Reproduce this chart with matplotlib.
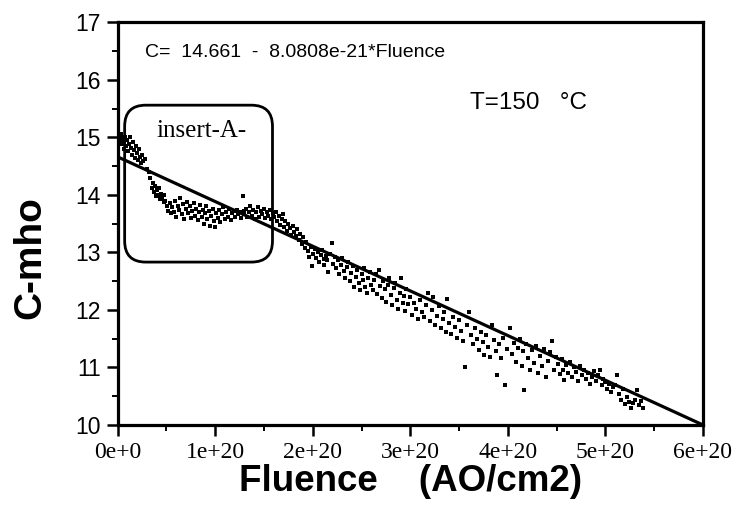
import matplotlib
matplotlib.use("Agg")
import matplotlib.pyplot as plt
from matplotlib.patches import FancyBboxPatch
from matplotlib import font_manager
import numpy as np

# Fluence in units of 1e20 AO/cm2, C in mho
fluence = [
    0.00, 0.01, 0.02, 0.03, 0.04, 0.05, 0.06, 0.07, 0.08, 0.09, 0.10, 0.11, 0.12, 0.13,
    0.14, 0.15, 0.16, 0.17, 0.18, 0.19, 0.20, 0.21, 0.22, 0.23, 0.24, 0.25, 0.26, 0.28,
    0.30, 0.32, 0.33, 0.35, 0.36, 0.37, 0.38, 0.39, 0.40, 0.41, 0.42, 0.43, 0.44, 0.45,
    0.47, 0.48, 0.49,
    0.51, 0.52, 0.54, 0.55, 0.56, 0.58, 0.59, 0.60, 0.62, 0.63, 0.64, 0.66, 0.67, 0.68,
    0.70, 0.71, 0.72, 0.74, 0.75, 0.76, 0.78, 0.79, 0.80, 0.82, 0.83, 0.84, 0.86, 0.87,
    0.88, 0.90, 0.91, 0.92, 0.94, 0.95, 0.96, 0.98, 0.99,
    1.00, 1.01, 1.03, 1.04, 1.05, 1.07, 1.08, 1.10, 1.11, 1.13, 1.14, 1.16, 1.17, 1.19,
    1.20, 1.22, 1.23, 1.25, 1.26, 1.28, 1.29,
    1.30, 1.32, 1.33, 1.35, 1.36, 1.38, 1.39, 1.41, 1.42, 1.44, 1.45, 1.47, 1.48, 1.50,
    1.51, 1.53, 1.54, 1.56, 1.57, 1.59,
    1.60, 1.62, 1.63, 1.65, 1.66, 1.68, 1.69, 1.71, 1.72, 1.74, 1.75, 1.77, 1.78, 1.80,
    1.81, 1.83, 1.84, 1.86, 1.87, 1.89,
    1.90, 1.92, 1.93, 1.95, 1.96, 1.98, 1.99, 2.00, 2.02, 2.03, 2.05, 2.06, 2.08, 2.09,
    2.11, 2.12, 2.14, 2.15, 2.16, 2.18, 2.20,
    2.21, 2.23, 2.24, 2.26, 2.27, 2.29, 2.30, 2.32, 2.33, 2.35, 2.36, 2.38, 2.39, 2.41,
    2.42, 2.44, 2.45, 2.47, 2.48, 2.50, 2.51, 2.53, 2.54, 2.56, 2.57, 2.59,
    2.60, 2.62, 2.63, 2.65, 2.66, 2.68, 2.69, 2.71, 2.72, 2.74, 2.75, 2.77, 2.78, 2.80,
    2.81, 2.83, 2.84, 2.86, 2.87, 2.89, 2.90, 2.92, 2.93, 2.95, 2.96, 2.98,
    3.00, 3.02, 3.04, 3.06, 3.08, 3.10, 3.12, 3.14, 3.16, 3.18, 3.20, 3.22, 3.23, 3.25,
    3.27, 3.29, 3.31, 3.33, 3.35, 3.37, 3.38, 3.40, 3.42, 3.44, 3.46, 3.48,
    3.50, 3.52, 3.54, 3.56, 3.58, 3.60, 3.62, 3.64, 3.66, 3.68, 3.70, 3.72, 3.74, 3.76,
    3.78, 3.80, 3.82, 3.84, 3.86, 3.88, 3.89, 3.91, 3.93, 3.95, 3.97, 3.99,
    4.02, 4.04, 4.06, 4.08, 4.10, 4.12, 4.14, 4.16, 4.17, 4.19, 4.21, 4.23, 4.25, 4.27,
    4.29, 4.31, 4.33, 4.35, 4.37, 4.39, 4.41, 4.43, 4.45, 4.47, 4.49,
    4.51, 4.53, 4.55, 4.57, 4.58, 4.60, 4.62, 4.64, 4.66, 4.68, 4.70, 4.72, 4.74, 4.76,
    4.78, 4.80, 4.82, 4.84, 4.86, 4.88, 4.90, 4.92, 4.94, 4.96, 4.98,
    5.00, 5.02, 5.04, 5.06, 5.08, 5.10, 5.12, 5.14, 5.16, 5.18, 5.20, 5.22, 5.24, 5.26,
    5.28, 5.30, 5.32, 5.34, 5.36, 5.38,
]
c_mho = [
    15.10, 15.02, 14.95, 15.05, 14.88, 14.98, 14.80, 14.92, 15.00, 14.85, 14.95, 14.76, 14.88, 15.00,
    14.82, 14.70, 14.92, 14.78, 14.64, 14.85, 14.72, 14.60, 14.80, 14.66, 14.55, 14.70, 14.58, 14.62,
    14.45, 14.40, 14.30, 14.12, 14.20, 14.05, 14.15, 13.98, 14.08, 14.00, 14.12, 13.92, 14.02, 13.95,
    13.88, 14.00, 13.90,
    13.80, 13.72, 13.85, 13.68, 13.78, 13.70, 13.90, 13.62, 13.80, 13.74, 13.95, 13.66, 13.84, 13.58,
    13.76, 13.88, 13.68, 13.80, 13.60, 13.72, 13.85, 13.64, 13.76, 13.56, 13.70, 13.82, 13.62, 13.74,
    13.50, 13.68, 13.80, 13.58, 13.72, 13.46, 13.64, 13.76, 13.55,
    13.44, 13.68, 13.60, 13.74, 13.52, 13.66, 13.78, 13.58, 13.70, 13.62, 13.76, 13.56, 13.68, 13.72,
    13.62, 13.74, 13.66, 13.70, 13.60, 13.98, 13.72,
    13.66, 13.76, 13.62, 13.70, 13.80, 13.64, 13.74, 13.58, 13.70, 13.78, 13.62, 13.72, 13.66, 13.76,
    13.60, 13.70, 13.64, 13.74, 13.58, 13.68,
    13.62, 13.70, 13.55, 13.64, 13.48, 13.58, 13.66, 13.44, 13.54, 13.38, 13.50, 13.42, 13.30, 13.46,
    13.36, 13.28, 13.40, 13.22, 13.32, 13.15,
    13.26, 13.08, 13.18, 13.02, 12.92, 13.10, 12.76, 12.98, 13.06, 12.90, 13.00, 12.84, 12.96, 13.04,
    12.88, 12.78, 12.94, 12.86, 12.66, 12.98, 13.16,
    12.80, 12.92, 12.72, 12.86, 12.62, 12.78, 12.90, 12.68, 12.56, 12.74, 12.84, 12.50, 12.64, 12.76,
    12.40, 12.58, 12.70, 12.46, 12.34, 12.62, 12.52, 12.72, 12.40, 12.30, 12.56, 12.66,
    12.44, 12.34, 12.52, 12.62, 12.28, 12.70, 12.42, 12.20, 12.50, 12.36, 12.14, 12.44, 12.55, 12.26,
    12.08, 12.38, 12.46, 12.18, 12.02, 12.30, 12.55, 12.12, 12.24, 11.98, 12.36, 12.10,
    12.22, 11.92, 12.12, 12.02, 11.84, 12.18, 11.96, 11.88, 12.08, 12.29, 11.80, 12.00, 12.22, 11.74,
    11.90, 12.06, 11.68, 11.84, 11.96, 11.62, 12.19, 11.78, 11.58, 11.88, 11.70, 11.52,
    11.82, 11.64, 11.46, 11.00, 11.74, 11.96, 11.56, 11.40, 11.68, 11.50, 11.30, 11.62, 11.44, 11.22,
    11.56, 11.36, 11.18, 11.74, 11.48, 11.28, 10.87, 11.40, 11.16, 11.52, 10.69, 11.32,
    11.69, 11.24, 11.42, 11.10, 11.34, 11.50, 11.02, 11.28, 10.61, 11.40, 11.16, 10.96, 11.30, 11.08,
    11.38, 10.90, 11.20, 11.02, 11.32, 10.84, 11.12, 11.26, 11.46, 10.96, 11.18,
    11.06, 10.88, 11.14, 10.96, 10.78, 11.04, 10.90, 11.10, 10.84, 11.00, 10.92, 10.76, 11.02, 10.86,
    10.96, 10.80, 10.90, 10.72, 10.84, 10.94, 10.76, 10.86, 10.96, 10.70, 10.80,
    10.74, 10.62, 10.72, 10.58, 10.66, 10.70, 10.87, 10.54, 10.43, 10.62, 10.36, 10.48, 10.40, 10.30,
    10.38, 10.44, 10.61, 10.34, 10.42, 10.30,
]

# fitted line as drawn (endpoints)
fit_x = [0.0, 6.0]
fit_y = [14.66, 10.0]

x_ticks = [0, 1, 2, 3, 4, 5, 6]
x_labels = ["0e+0", "1e+20", "2e+20", "3e+20", "4e+20", "5e+20", "6e+20"]
y_ticks = [10, 11, 12, 13, 14, 15, 16, 17]

# condensed font for the equation, if available
_names = {f.name for f in font_manager.fontManager.ttflist}
if "Liberation Sans Narrow" in _names:
    eq_family, eq_size = "Liberation Sans Narrow", 16.5
else:
    eq_family, eq_size = "Liberation Sans", 14

fig = plt.figure(figsize=(7.4, 5.17), dpi=100)
ax = fig.add_axes([0.159, 0.178, 0.791, 0.779])

ax.scatter(fluence, c_mho, s=9, marker="s", color="black", linewidths=0, zorder=3)
ax.plot(fit_x, fit_y, color="black", linewidth=2.3, zorder=4)

ax.set_xlim(0, 6)
ax.set_ylim(10, 17)

ax.set_xticks(x_ticks)
ax.set_xticklabels(x_labels, fontfamily="Liberation Serif", fontsize=17)
ax.set_xticks(np.arange(0.5, 6, 1.0), minor=True)
ax.set_yticks(y_ticks)
ax.set_yticklabels([str(v) for v in y_ticks], fontfamily="Liberation Sans", fontsize=16.5)
ax.set_yticks(np.arange(10.5, 17, 1.0), minor=True)

ax.tick_params(axis="both", which="major", direction="out", length=8, width=1.8, pad=4)
ax.tick_params(axis="both", which="minor", direction="out", length=4.5, width=1.4)
ax.tick_params(top=False, right=False)

for sp in ax.spines.values():
    sp.set_linewidth(2.3)

ax.set_xlabel("Fluence    (AO/cm2)", fontfamily="Liberation Sans", fontweight="bold",
              fontsize=26.5)
ax.xaxis.set_label_coords(0.5, -0.098)
ax.set_ylabel("C-mho", fontfamily="Liberation Sans", fontweight="bold", fontsize=28)
ax.yaxis.set_label_coords(-0.118, 0.415)

ax.text(0.28, 16.39, "C=  14.661  -  8.0808e-21*Fluence", fontfamily=eq_family,
        fontsize=eq_size, ha="left", va="baseline")
ax.text(3.61, 15.50, "T=150   \u00b0C", fontfamily="Liberation Sans",
        fontsize=17.5, ha="left", va="baseline")
ax.text(0.40, 15.0, "insert-A-", fontfamily="Liberation Serif",
        fontsize=18, ha="left", va="baseline")

# rounded inset box (axes fraction)
bx0, bx1 = (125 - 118) / 586, (273 - 118) / 586
by0, by1 = (425 - 262) / 403, (425 - 105) / 403
box = FancyBboxPatch((bx0, by0), bx1 - bx0, by1 - by0,
                     boxstyle="round,pad=0,rounding_size=0.036",
                     mutation_aspect=586 / 403,
                     transform=ax.transAxes, fill=False, edgecolor="black",
                     linewidth=2.0, zorder=2)
ax.add_patch(box)

fig.savefig("out.png", dpi=100)
